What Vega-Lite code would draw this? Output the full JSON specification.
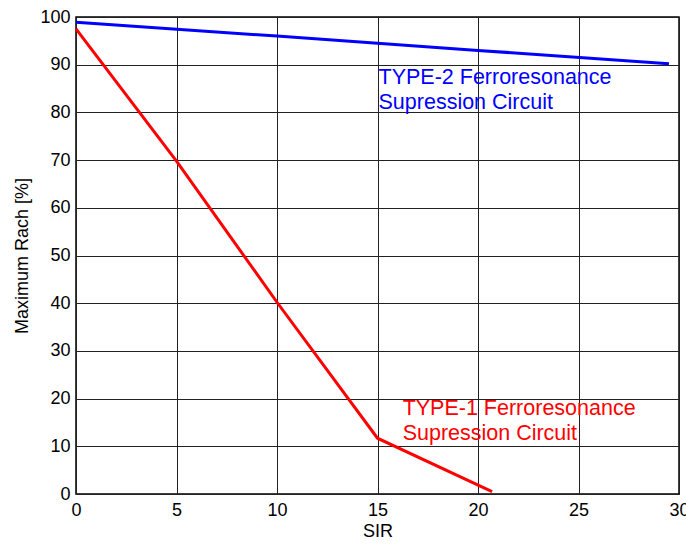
{
  "$schema": "https://vega.github.io/schema/vega-lite/v6.json",
  "autosize": "none",
  "width": 603,
  "height": 477,
  "padding": {"left": 76, "top": 17, "right": 7, "bottom": 50},
  "background": "white",
  "config": {
    "font": "Liberation Sans",
    "view": {"stroke": "black", "strokeWidth": 1.5}
  },
  "datasets": {
    "lines": [
      {"sir": 0, "reach": 98.9, "series": "TYPE-2"},
      {"sir": 10, "reach": 96.0, "series": "TYPE-2"},
      {"sir": 20, "reach": 93.0, "series": "TYPE-2"},
      {"sir": 29.5, "reach": 90.2, "series": "TYPE-2"},
      {"sir": 0, "reach": 97.5, "series": "TYPE-1"},
      {"sir": 5, "reach": 69.8, "series": "TYPE-1"},
      {"sir": 10, "reach": 40.2, "series": "TYPE-1"},
      {"sir": 15, "reach": 11.7, "series": "TYPE-1"},
      {"sir": 20.7, "reach": 0.5, "series": "TYPE-1"}
    ],
    "labels": [
      {"sir": 15.05, "reach": 87.3, "series": "TYPE-2", "label": "TYPE-2 Ferroresonance\nSupression Circuit"},
      {"sir": 16.25, "reach": 17.8, "series": "TYPE-1", "label": "TYPE-1 Ferroresonance\nSupression Circuit"}
    ]
  },
  "layer": [
    {
      "data": {"name": "lines"},
      "mark": {"type": "line", "strokeWidth": 3},
      "encoding": {
        "x": {
          "field": "sir", "type": "quantitative",
          "scale": {"domain": [0, 30], "nice": false},
          "axis": {
            "title": "SIR", "values": [0, 5, 10, 15, 20, 25, 30],
            "grid": true, "gridColor": "#222", "gridOpacity": 1, "gridWidth": 1,
            "domain": false, "tickSize": 0, "labelFlush": false,
            "labelFontSize": 18, "labelColor": "black", "labelPadding": 7,
            "titleFontSize": 18, "titleFontWeight": "normal", "titleColor": "black", "titlePadding": 3
          }
        },
        "y": {
          "field": "reach", "type": "quantitative",
          "scale": {"domain": [0, 100], "nice": false},
          "axis": {
            "title": "Maximum Rach [%]", "values": [0, 10, 20, 30, 40, 50, 60, 70, 80, 90, 100],
            "grid": true, "gridColor": "#222", "gridOpacity": 1, "gridWidth": 1,
            "domain": false, "tickSize": 0, "labelFlush": false,
            "labelFontSize": 18, "labelColor": "black", "labelPadding": 6,
            "titleFontSize": 18, "titleFontWeight": "normal", "titleColor": "black", "titlePadding": 8
          }
        },
        "color": {
          "field": "series", "type": "nominal",
          "scale": {"domain": ["TYPE-1", "TYPE-2"], "range": ["#ff0000", "#0000ff"]},
          "legend": null
        },
        "detail": {"field": "series"}
      }
    },
    {
      "data": {"name": "labels"},
      "mark": {"type": "text", "align": "left", "baseline": "middle", "fontSize": 21.5, "lineBreak": "\n", "lineHeight": 25},
      "encoding": {
        "x": {"field": "sir", "type": "quantitative"},
        "y": {"field": "reach", "type": "quantitative"},
        "text": {"field": "label"},
        "color": {"field": "series", "type": "nominal", "legend": null}
      }
    }
  ]
}
